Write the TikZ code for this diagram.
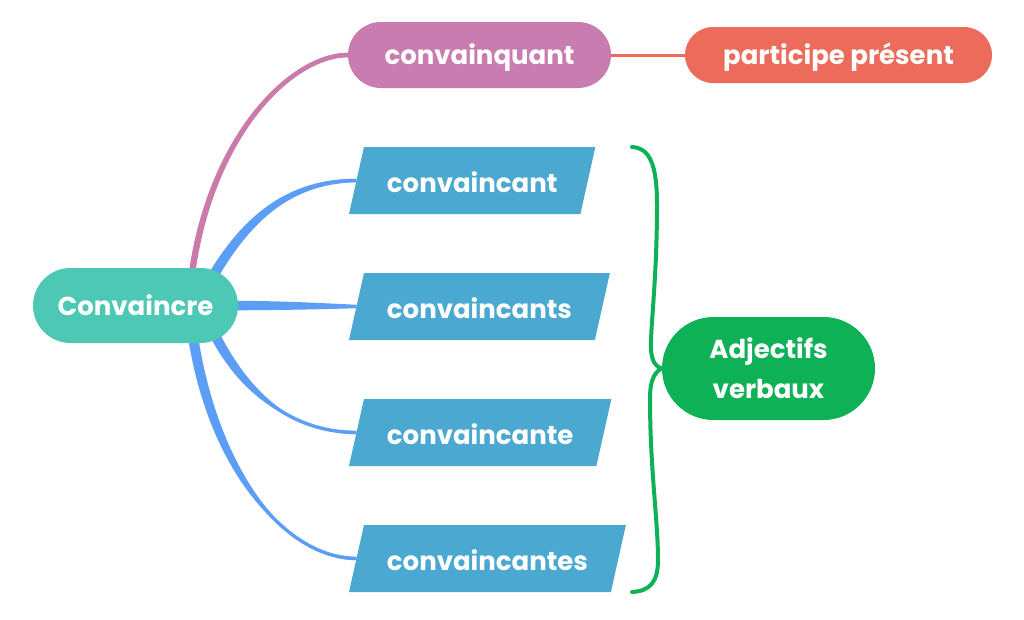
\documentclass[tikz,border=0pt]{standalone}
\usepackage{fontspec}
\setmainfont{Poppins}
\usetikzlibrary{shapes.geometric,shapes.misc,calc}
\definecolor{rootc}{HTML}{4DC8B4}
\definecolor{pinkc}{HTML}{C97CB0}
\definecolor{pinkl}{HTML}{CA7BA9}
\definecolor{salmonc}{HTML}{EC6B5A}
\definecolor{parac}{HTML}{4BA9D1}
\definecolor{bluel}{HTML}{5C9DF5}
\definecolor{greenc}{HTML}{0FB157}
\pgfdeclarelayer{bg}
\pgfsetlayers{bg,main}
\tikzset{
  txt/.style={text=white,font=\fontsize{26}{40}\selectfont\bfseries},
  pill/.style={txt,rounded rectangle,inner sep=0pt,outer sep=0pt},
  onepill/.style={pill,text height=19pt,text depth=0pt},
  para/.style={txt,trapezium,trapezium left angle=77.4,trapezium right angle=102.6,
    fill=parac,inner xsep=23pt,inner ysep=21pt,text height=24pt,text depth=1pt,
    outer sep=0pt,anchor=bottom left corner},
}
% #1 colour, #2 start, #3 c1, #4 c2, #5 end, #6 start half-width vector, #7 end half-width, #8 core width
\newcommand\taperbranch[8]{%
  \fill[#1] ($#2+#6$) .. controls ($#3+#6$) and ($#4+0.4*#6+(0,#7)$) .. ($#5+(0,#7)$)
    -- ($#5-(0,#7)$) .. controls ($#4-0.4*#6-(0,#7)$) and ($#3-#6$) .. ($#2-#6$) -- cycle;
  \draw[#1,line width=#8] #2 .. controls #3 and #4 .. #5;}
\begin{document}
\begin{tikzpicture}[x=1pt,y=-1pt]
\useasboundingbox (0,0) rectangle (1024,619);
\node[onepill,fill=rootc,minimum width=205pt,minimum height=75pt] (root) at (135.5,305.5) {Convaincre};
\node[onepill,fill=pinkc,minimum width=263pt,minimum height=66pt] (q) at (479.5,55) {convainquant};
\node[onepill,fill=salmonc,minimum width=307pt,minimum height=56pt] (pp) at (838.5,55) {participe présent};
\node[para] (p1) at (349,214) {convaincant};
\node[para] (p2) at (349,340) {convaincants};
\node[para] (p3) at (349,466) {convaincante};
\node[para] (p4) at (349,592) {convaincantes};
\node[pill,fill=greenc,minimum width=213pt,minimum height=103pt,align=center] (adj) at (768.5,368.5) {Adjectifs\\verbaux};
\begin{pgfonlayer}{bg}
\fill[white] (0,0) rectangle (1024,619);
\taperbranch{pinkl}{(190,290)}{(205,140)}{(290,55)}{(q.west)}{(3.2,0.3)}{2.3}{4.2pt}
\taperbranch{bluel}{(205,290)}{(238,230)}{(280,181)}{(p1.west)}{(4.5,2.4)}{1.7}{3.4pt}
\taperbranch{bluel}{(225,305.5)}{(270,305.5)}{(310,306)}{(p2.west)}{(0,4.8)}{1.7}{2.8pt}
\taperbranch{bluel}{(210,325)}{(238,385)}{(285,432)}{(p3.west)}{(4.5,-2.2)}{1.7}{3.4pt}
\taperbranch{bluel}{(192,330)}{(212,470)}{(285,558)}{(p4.west)}{(5,-0.6)}{1.7}{3.4pt}
\end{pgfonlayer}
\draw[salmonc,line width=3pt] (q.east) -- (pp.west);
\draw[greenc,line width=4pt,line cap=round] (632,147)
  .. controls (650,148) and (657,165) .. (657,205)
  .. controls (657,280) and (650,330) .. (651,350)
  .. controls (652,362) and (656,367) .. (adj.west)
  .. controls (656,371) and (650,378) .. (650,398)
  .. controls (650,470) and (658,520) .. (658,560)
  .. controls (658,582) and (650,591) .. (632,592);
\end{tikzpicture}
\end{document}
